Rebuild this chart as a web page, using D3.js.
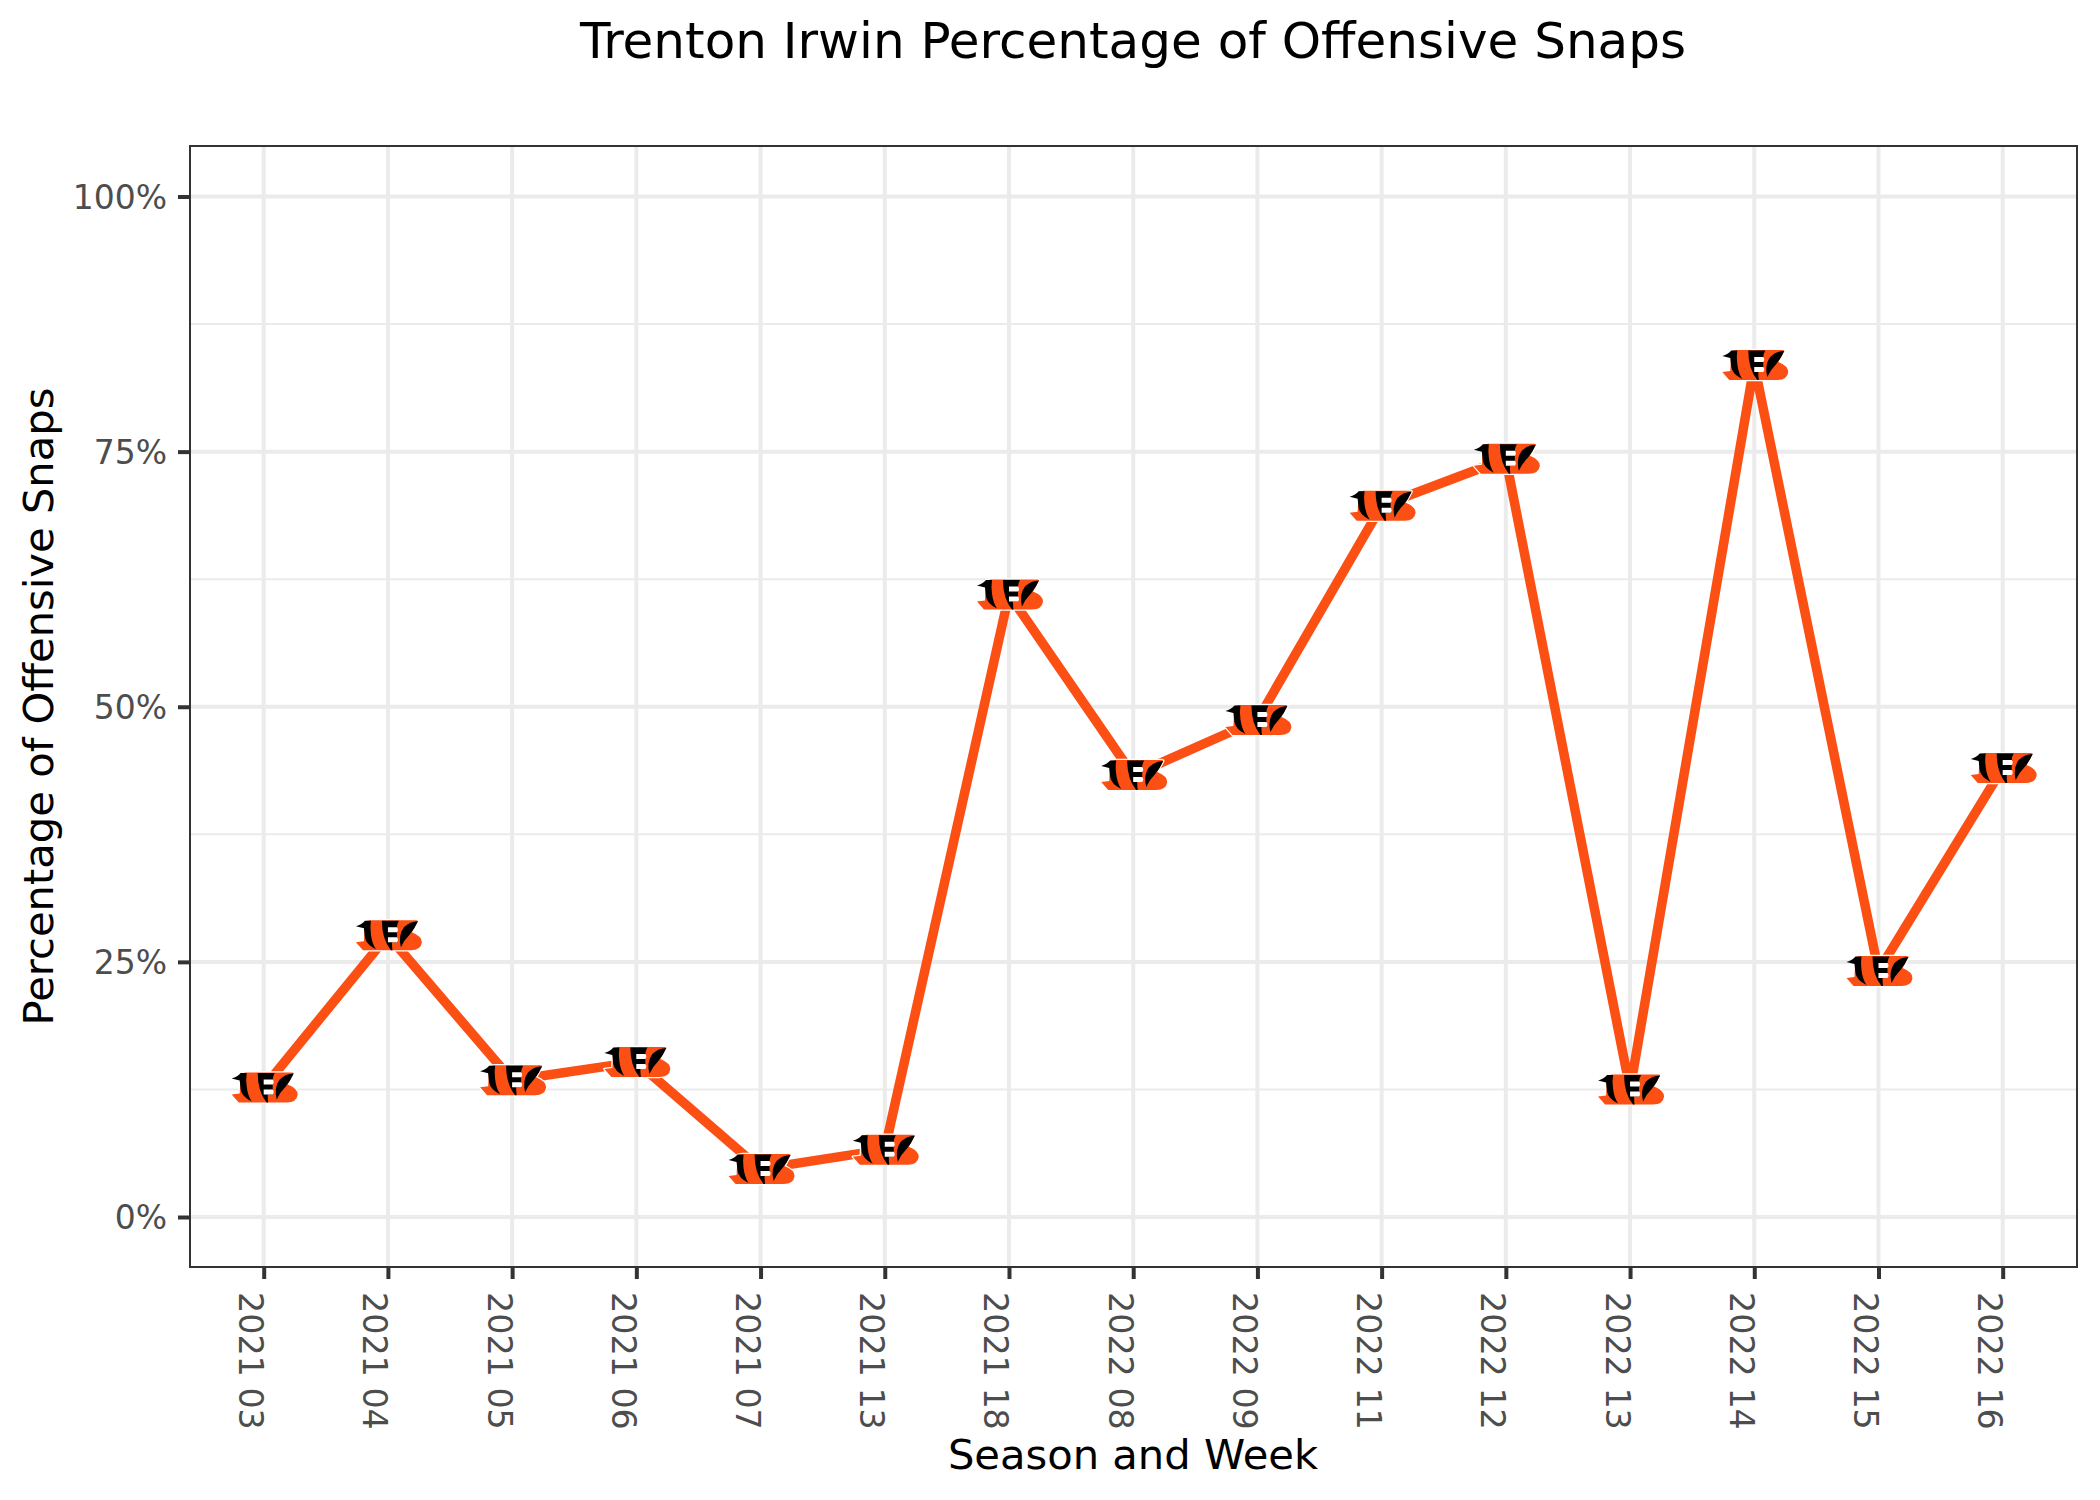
<!DOCTYPE html>
<html><head><meta charset="utf-8">
<script src="https://cdn.jsdelivr.net/npm/d3@7"></script>
<style>html,body{margin:0;padding:0;background:#fff}svg{display:block}text{font-family:"DejaVu Sans"}</style>
</head><body><div id="chart"></div>
<script>
const titleText = "Trenton Irwin Percentage of Offensive Snaps";
const xTitle = "Season and Week";
const yTitle = "Percentage of Offensive Snaps";
const categories = ["2021 03","2021 04","2021 05","2021 06","2021 07","2021 13","2021 18","2022 08","2022 09","2022 11","2022 12","2022 13","2022 14","2022 15","2022 16"];
const snapShare = [0.127,0.276,0.134,0.152,0.047,0.066,0.61,0.433,0.487,0.697,0.743,0.125,0.835,0.241,0.44];
const majorTicks = [0,0.25,0.5,0.75,1];
const minorTicks = [0.125,0.375,0.625,0.875];

// Team logo glyph, in its own local units around the point
const logoBody = "M-18,-15 L28,-15 Q30,-15 30,-14 L24,-3 Q34,1 34,7 Q33,15 23,15 L-25,15 L-32,7 L-24,6 L-23,-14 Z";
const logoStripes = [
 "M-32,-9 Q-26,-11 -23,-14.5 L-17,-14.5 Q-18,-8 -17,-1 Q-16,8 -12,14 Q-22,9 -23,2 L-24,-7 Z",
 "M-6,-14.5 L11,-14.5 Q9,-11 9,-8 L9,7 L4,7 Q4,11 4.5,15 L3,15 Q-6,4 -6,-14.5 Z",
 "M30,-14 Q22,-14 16,-8 Q10,0 13,12 Q16,5 22,-1 Q27,-7 30,-14 Z"
];
const logoBars = ["M0,-8 L9,-8 Q11,-5.5 9,-3 L0,-3 Z","M0,2 L9,2 Q11,4.5 9,7 L0,7 Z"];

const W=2100,H=1500;
const panel={l:190,r:2077,t:146,b:1267};
const svg=d3.select("#chart").append("svg").attr("width",W).attr("height",H).attr("viewBox",`0 0 ${W} ${H}`);
svg.append("rect").attr("width",W).attr("height",H).attr("fill","#fff");

const x=d3.scalePoint().domain(categories).range([263.7,2002.7]);
const y=d3.scaleLinear().domain([0,1]).range([1217,196.5]);

const grid=svg.append("g").attr("fill","none");
grid.selectAll(".minor").data(minorTicks).join("line").attr("x1",panel.l).attr("x2",panel.r)
 .attr("y1",d=>y(d)).attr("y2",d=>y(d)).attr("stroke","#ebebeb").attr("stroke-width",2);
grid.selectAll(".major").data(majorTicks).join("line").attr("x1",panel.l).attr("x2",panel.r)
 .attr("y1",d=>y(d)).attr("y2",d=>y(d)).attr("stroke","#ebebeb").attr("stroke-width",4);
grid.selectAll(".vert").data(categories).join("line").attr("y1",panel.t).attr("y2",panel.b)
 .attr("x1",d=>x(d)).attr("x2",d=>x(d)).attr("stroke","#ebebeb").attr("stroke-width",4);

const line=d3.line().x((d,i)=>x(categories[i])).y(d=>y(d));
svg.append("path").datum(snapShare).attr("d",line).attr("fill","none").attr("stroke","#FB4F14").attr("stroke-width",9.5).attr("stroke-linejoin","round");

const logos=svg.append("g").selectAll("g").data(snapShare).join("g")
 .attr("transform",(d,i)=>`translate(${x(categories[i])},${y(d)})`);
logos.append("path").attr("d",logoBody).attr("fill","#FB4F14").attr("stroke","#fff").attr("stroke-width",2.5).attr("paint-order","stroke").attr("stroke-linejoin","round");
logoStripes.forEach(p=>logos.append("path").attr("d",p).attr("fill","#000"));
logoBars.forEach(p=>logos.append("path").attr("d",p).attr("fill","#fff"));

svg.append("rect").attr("x",panel.l).attr("y",panel.t).attr("width",panel.r-panel.l).attr("height",panel.b-panel.t)
 .attr("fill","none").attr("stroke","#333").attr("stroke-width",2);

const xAxis=svg.append("g").attr("transform",`translate(0,${panel.b})`)
 .call(d3.axisBottom(x).tickSize(12).tickPadding(0));
xAxis.select(".domain").remove();
xAxis.selectAll(".tick line").attr("stroke","#333").attr("stroke-width",4);
xAxis.selectAll(".tick text").attr("transform","translate(-25,25) rotate(90)").attr("x",0).attr("y",0).attr("dy",0)
 .attr("text-anchor","start").attr("font-family","DejaVu Sans").attr("font-size",33.33).attr("fill","#4d4d4d");

const yAxis=svg.append("g").attr("transform",`translate(${panel.l},0)`)
 .call(d3.axisLeft(y).tickValues(majorTicks).tickFormat(d3.format(".0%")).tickSize(12).tickPadding(11));
yAxis.select(".domain").remove();
yAxis.selectAll(".tick line").attr("stroke","#333").attr("stroke-width",4);
yAxis.selectAll(".tick text").attr("font-family","DejaVu Sans").attr("font-size",33).attr("fill","#4d4d4d").attr("dy","0.36em");

svg.append("text").attr("x",1133).attr("y",58).attr("text-anchor","middle").attr("font-size",50).attr("fill","#000").text(titleText);
svg.append("text").attr("x",1133).attr("y",1468.5).attr("text-anchor","middle").attr("font-size",41.67).attr("fill","#000").text(xTitle);
svg.append("text").attr("transform","translate(53,706.5) rotate(-90)").attr("text-anchor","middle").attr("font-size",41.67).attr("fill","#000").text(yTitle);
</script></body></html>
